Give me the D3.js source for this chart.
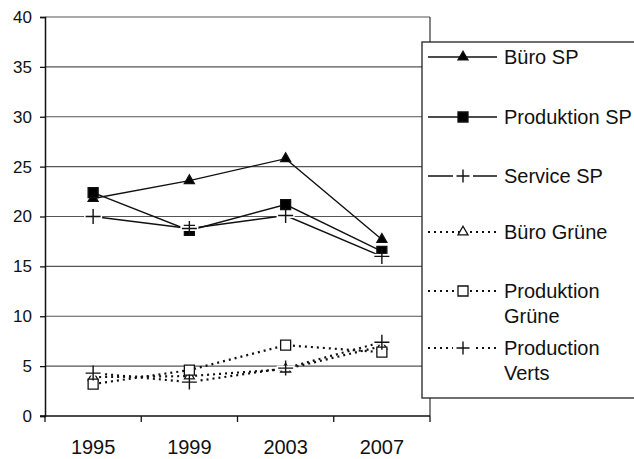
<!DOCTYPE html>
<html>
<head>
<meta charset="utf-8">
<script src="https://cdn.jsdelivr.net/npm/d3@7"></script>
<style>
  body { margin: 0; background: #fff; }
  svg { display: block; font-family: "Liberation Sans", Arial, sans-serif; }
</style>
</head>
<body>
<div id="chart"></div>
<script>
// Daten
const years = ['1995', '1999', '2003', '2007'];
const yTicks = [0, 5, 10, 15, 20, 25, 30, 35, 40];

const bueroSP = [21.8, 23.6, 25.8, 17.7];
const produktionSP = [22.4, 18.6, 21.2, 16.5];
const serviceSP = [20.0, 18.8, 20.1, 16.0];
const bueroGruene = [3.9, 4.0, 4.7, 7.0];
const produktionGruene = [3.2, 4.6, 7.1, 6.4];
const productionVerts = [4.3, 3.4, 4.8, 7.4];

const seriesNames = [
    ['Büro SP'],
    ['Produktion SP'],
    ['Service SP'],
    ['Büro Grüne'],
    ['Produktion', 'Grüne'],
    ['Production', 'Verts']
];

const series = [
    { values: bueroSP, marker: 'triangle', fill: '#000', dotted: false },
    { values: produktionSP, marker: 'square', fill: '#000', dotted: false },
    { values: serviceSP, marker: 'plus', fill: 'none', dotted: false },
    { values: bueroGruene, marker: 'triangle', fill: '#fff', dotted: true },
    { values: produktionGruene, marker: 'square', fill: '#fff', dotted: true },
    { values: productionVerts, marker: 'plus', fill: 'none', dotted: true }
];

const width = 634, height = 459;
const m = { left: 45, right: 430, top: 17, bottom: 416 };

const svg = d3.select('#chart').append('svg')
    .attr('width', width)
    .attr('height', height);

const x = d3.scaleBand().domain(years).range([m.left, m.right]).paddingInner(0).paddingOuter(0);
const y = d3.scaleLinear().domain([0, 40]).range([m.bottom, m.top]);

// Gitterlinien
svg.append('g')
    .selectAll('line')
    .data(yTicks.filter(t => t > 0))
    .join('line')
    .attr('x1', m.left)
    .attr('x2', m.right)
    .attr('y1', d => y(d))
    .attr('y2', d => y(d))
    .attr('stroke', '#555')
    .attr('stroke-width', 1.2);

// rechter Rand
svg.append('line')
    .attr('x1', m.right).attr('x2', m.right)
    .attr('y1', m.top).attr('y2', m.bottom)
    .attr('stroke', '#333').attr('stroke-width', 1.2);

// Y-Achse
const yAxis = svg.append('g')
    .attr('transform', `translate(${m.left},0)`)
    .call(d3.axisLeft(y).tickValues(yTicks).tickSize(5).tickPadding(8));
yAxis.select('.domain').attr('stroke', '#111').attr('stroke-width', 1.5);
yAxis.selectAll('.tick line').attr('stroke', '#111').attr('stroke-width', 1.3);
yAxis.selectAll('.tick text')
    .attr('fill', '#111')
    .style('font-size', '17px')
    .style('font-family', '"Liberation Sans", Arial, sans-serif');

// X-Achse mit Strichen an den Kategoriengrenzen
const xAxisG = svg.append('g').attr('transform', `translate(0,${m.bottom})`);
xAxisG.append('line')
    .attr('x1', m.left - 5).attr('x2', m.right)
    .attr('stroke', '#111').attr('stroke-width', 1.5);
const bounds = years.map(d => x(d)).concat([x(years[years.length - 1]) + x.bandwidth()]);
xAxisG.selectAll('.xt')
    .data(bounds)
    .join('line')
    .attr('class', 'xt')
    .attr('x1', d => d).attr('x2', d => d)
    .attr('y1', 0).attr('y2', 6)
    .attr('stroke', '#111').attr('stroke-width', 1.3);
xAxisG.selectAll('text')
    .data(years)
    .join('text')
    .attr('x', d => x(d) + x.bandwidth() / 2)
    .attr('y', 38)
    .attr('text-anchor', 'middle')
    .attr('fill', '#111')
    .style('font-size', '20px')
    .text(d => d);

// w = Breite des Markers in Pixeln
function drawMarker(g, type, fill, w) {
    if (type === 'plus') {
        const h = w / 2;
        g.append('path')
            .attr('d', `M${-h},0H${h}M0,${-h}V${h}`)
            .attr('stroke', '#111')
            .attr('stroke-width', 1.4)
            .attr('fill', 'none');
    } else {
        const sym = type === 'triangle' ? d3.symbolTriangle : d3.symbolSquare;
        const area = type === 'triangle' ? Math.sqrt(3) / 4 * w * w : w * w;
        g.append('path')
            .attr('d', d3.symbol().type(sym).size(area)())
            .attr('fill', fill)
            .attr('stroke', '#111')
            .attr('stroke-width', 1.3);
    }
}

const line = d3.line()
    .x((d, i) => x(years[i]) + x.bandwidth() / 2)
    .y(d => y(d));

// Linien
series.forEach(s => {
    svg.append('path')
        .datum(s.values)
        .attr('d', line)
        .attr('fill', 'none')
        .attr('stroke', '#111')
        .attr('stroke-width', s.dotted ? 2.2 : 1.4)
        .attr('stroke-dasharray', s.dotted ? '2,4' : null);
});

// Marker
series.forEach(s => {
    s.values.forEach((v, i) => {
        const g = svg.append('g')
            .attr('transform', `translate(${x(years[i]) + x.bandwidth() / 2},${y(v)})`);
        if (s.marker === 'plus') {
            g.append('rect').attr('x', -9).attr('y', -2.5).attr('width', 18).attr('height', 5).attr('fill', '#fff');
        }
        drawMarker(g, s.marker, s.fill, s.marker === 'plus' ? 15 : 10);
    });
});

// Legende
const legend = svg.append('g');
legend.append('rect')
    .attr('x', 422).attr('y', 42)
    .attr('width', 260).attr('height', 356)
    .attr('fill', '#fff')
    .attr('stroke', '#222')
    .attr('stroke-width', 1.3);

const legendRows = [57, 117, 176, 232, 291, 348];
series.forEach((s, i) => {
    const ly = legendRows[i];
    const row = legend.append('g').attr('transform', `translate(0,${ly})`);
    row.append('line')
        .attr('x1', 428).attr('x2', 497)
        .attr('stroke', '#111')
        .attr('stroke-width', s.dotted ? 2 : 1.4)
        .attr('stroke-dasharray', s.dotted ? '2,4' : null);
    const mk = row.append('g').attr('transform', 'translate(463,0)');
    if (s.marker === 'plus') {
        mk.append('rect').attr('x', -10).attr('y', -3).attr('width', 20).attr('height', 6).attr('fill', '#fff');
    }
    drawMarker(mk, s.marker, s.fill, s.marker === 'plus' ? 13 : 10);
    seriesNames[i].forEach((t, j) => {
        row.append('text')
            .attr('x', 504)
            .attr('y', j * 25)
            .attr('dy', '0.35em')
            .attr('fill', '#111')
            .style('font-size', '20px')
            .text(t);
    });
});
</script>
</body>
</html>
